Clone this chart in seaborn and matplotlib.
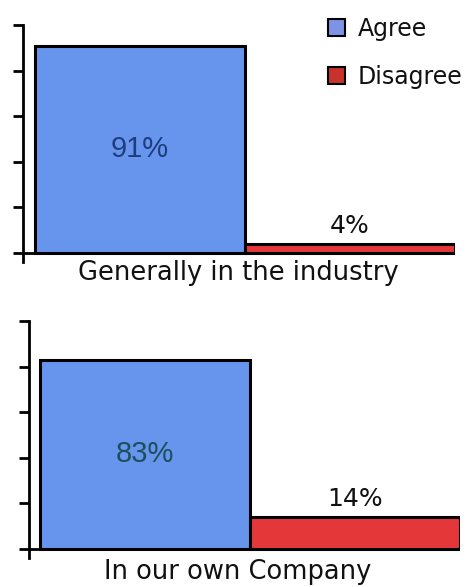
import matplotlib
matplotlib.use("Agg")
import matplotlib.pyplot as plt
import matplotlib.patches as mpatches
import seaborn as sns
import pandas as pd

# ---- data ----
groups = ["Generally in the industry", "In our own Company"]
responses = ["Agree", "Disagree"]
agree = [91, 83]
disagree = [4, 14]
yticks = [0, 20, 40, 60, 80, 100]

bar_colors = {"Agree": "#6795ee", "Disagree": "#e4373a"}
legend_colors = {"Agree": "#7d93e4", "Disagree": "#c7322c"}
inner_label_colors = ["#1f3d7c", "#1d4f5a"]

sns.set_style("white")
plt.rcParams["font.family"] = ["DejaVu Sans"]

W, H = 473, 587
fig = plt.figure(figsize=(W / 100, H / 100), dpi=100)
fig.patch.set_facecolor("white")

# pixel layouts: (axis left x, bar start x, y of 100, y of 0)
layouts = [(22.5, 35, 25, 253), (28.5, 40, 321, 549)]
label_y = [273, 572]
unit_px = 210.0

for i, g in enumerate(groups):
    axl, bar0, ytop, ybot = layouts[i]
    ppu = (ybot - ytop) / 100.0
    ymin = -4
    y_bottom_px = ybot - ymin * ppu
    right_px = bar0 + 2 * unit_px
    ax = fig.add_axes([axl / W, 1 - y_bottom_px / H,
                       (right_px - axl) / W, (y_bottom_px - ytop) / H])
    df = pd.DataFrame({"response": responses, "value": [agree[i], disagree[i]]})
    sns.barplot(data=df, x="response", y="value", hue="response",
                palette=bar_colors, width=1, saturation=1, legend=False,
                edgecolor="black", linewidth=2.2, ax=ax, zorder=3)
    ax.set_xlim(-0.5 - (bar0 - axl) / unit_px, 1.5)
    ax.set_ylim(ymin, 100)
    ax.set_yticks(yticks)
    ax.set_yticklabels([])
    ax.set_xticks([])
    ax.set_xlabel("")
    ax.set_ylabel("")
    for s in ["top", "right", "bottom"]:
        ax.spines[s].set_visible(False)
    ax.spines["left"].set_linewidth(2)
    ax.spines["left"].set_color("black")
    ax.tick_params(axis="y", direction="out", length=7, width=2, color="black", left=True)
    ax.axhline(0, color="black", lw=2, zorder=4)
    ax.set_facecolor("white")

    # value labels
    ax.text(0, agree[i] / 2, f"{agree[i]}%", ha="center", va="center",
            fontsize=21, family="Liberation Sans", color=inner_label_colors[i], zorder=5)
    ax.text(1, disagree[i] + 8, f"{disagree[i]}%", ha="center", va="center",
            fontsize=18, color="#111111", zorder=5)

    fig.text(238 / W, 1 - label_y[i] / H, g, ha="center", va="center",
             fontsize=18.5, color="#111111")

handles = [mpatches.Patch(facecolor=legend_colors[r], edgecolor="black", linewidth=1.5, label=r)
           for r in responses]
fig.legend(handles=handles, loc="upper left", bbox_to_anchor=(328 / W, 1 - 17 / H),
           frameon=False, fontsize=17, handlelength=0.72, handleheight=0.72,
           handletextpad=0.55, labelspacing=1.0, borderpad=0, borderaxespad=0,
           labelcolor="#111111")

fig.savefig("out.png", dpi=100, facecolor="white")
